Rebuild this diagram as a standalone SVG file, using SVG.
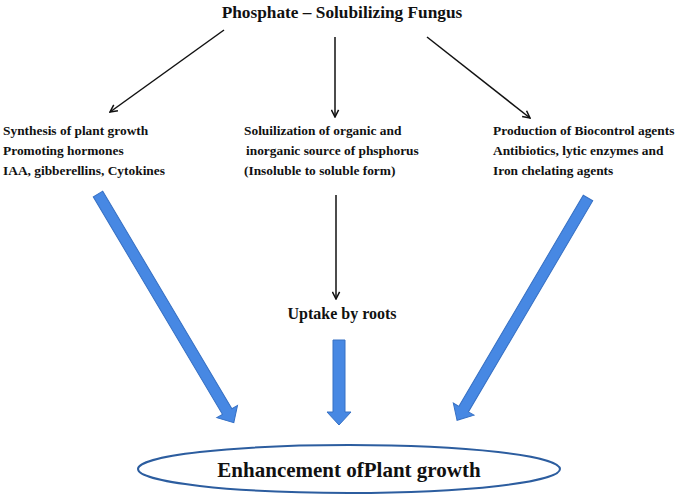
<svg xmlns="http://www.w3.org/2000/svg" width="685" height="496" viewBox="0 0 685 496">
<defs>
<style>
.t{font-family:"Liberation Serif","Times New Roman",serif;font-weight:bold;fill:#111;}
.c{font-size:13.4px;}
.ln{stroke:#111;stroke-width:1.5;fill:none;marker-end:url(#ah);}
.blue{fill:#4788e3;stroke:#3670c4;stroke-width:1;}
</style>
<marker id="ah" viewBox="0 0 10 10" refX="9" refY="5" markerWidth="9" markerHeight="9" markerUnits="userSpaceOnUse" orient="auto">
<path d="M1,1 L9,5 L1,9" fill="none" stroke="#111" stroke-width="1.7"/>
</marker>
</defs>
<rect width="685" height="496" fill="#fff"/>
<g id="title"><text class="t" x="342" y="18" font-size="17.3" text-anchor="middle">Phosphate – Solubilizing Fungus</text></g>
<g id="connectors">
<line class="ln" x1="224" y1="30" x2="110" y2="112"/>
<line class="ln" x1="335" y1="37" x2="335" y2="117"/>
<line class="ln" x1="427" y1="37" x2="530" y2="118"/>
<line class="ln" x1="336" y1="195" x2="336" y2="299"/>
<g transform="translate(98,194) rotate(-30.7)"><polygon class="blue" points="-5.5,0 5.5,0 5.5,253 12,253 0,266 -12,253 -5.5,253"/></g>
<g transform="translate(339,340)"><polygon class="blue" points="-6,0 6,0 6,72 12,72 0,85 -12,72 -6,72"/></g>
<g transform="translate(588,198) rotate(30.5)"><polygon class="blue" points="-5.5,0 5.5,0 5.5,245 12,245 0,258 -12,245 -5.5,245"/></g>
</g>
<g id="synthesis">
<text class="t c" x="3" y="135">Synthesis of plant growth</text>
<text class="t c" x="3" y="155">Promoting hormones</text>
<text class="t c" x="3" y="175">IAA, gibberellins, Cytokines</text>
</g>
<g id="solubilization">
<text class="t c" x="244" y="135">Soluilization of organic and</text>
<text class="t c" x="246" y="155">inorganic source of phsphorus</text>
<text class="t c" x="244" y="175">(Insoluble to soluble form)</text>
</g>
<g id="biocontrol">
<text class="t c" x="493" y="135">Production of Biocontrol agents</text>
<text class="t c" x="493" y="155">Antibiotics, lytic enzymes and</text>
<text class="t c" x="493" y="175">Iron chelating agents</text>
</g>
<g id="uptake"><text class="t" x="342" y="319" font-size="16" text-anchor="middle">Uptake by roots</text></g>
<g id="enhancement">
<ellipse cx="349" cy="469" rx="211" ry="24" fill="none" stroke="#2c5d9f" stroke-width="2"/>
<text class="t" x="349" y="477" font-size="21" text-anchor="middle">Enhancement ofPlant growth</text>
</g>
</svg>
